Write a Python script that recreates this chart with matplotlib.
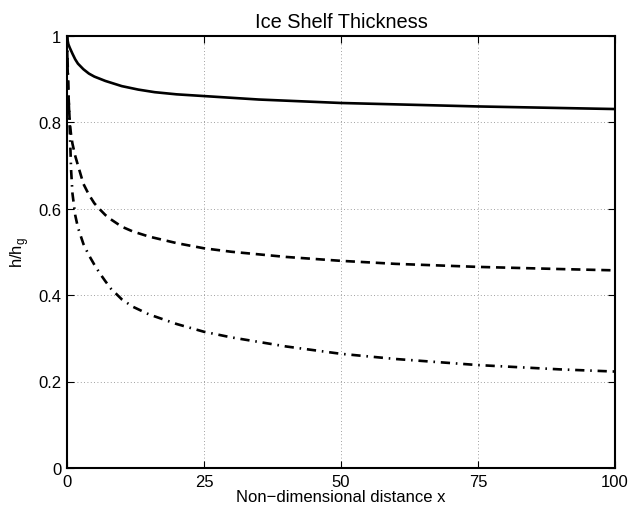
import matplotlib
matplotlib.use('Agg')
import matplotlib.pyplot as plt
from matplotlib.ticker import FixedLocator, FuncFormatter

# Valores (h/h_g frente a x)
x_solid = [0, 0.1, 0.25, 0.5, 1, 1.5, 2, 3, 4, 5, 6, 7, 8, 10, 13, 16, 20, 25,
           30, 35, 50, 75, 100]
h_solid = [1.0, 0.99, 0.98, 0.972, 0.958, 0.945, 0.935, 0.922, 0.912, 0.905,
           0.900, 0.895, 0.891, 0.883, 0.875, 0.869, 0.864, 0.860, 0.856,
           0.852, 0.844, 0.836, 0.830]

x_dash = [0, 0.05, 0.1, 0.25, 0.5, 0.75, 1, 1.5, 2, 3, 4, 5, 6, 7, 8, 10, 12,
          15, 20, 25, 30, 40, 50, 60, 75, 90, 100]
h_dash = [1.0, 0.96, 0.93, 0.87, 0.80, 0.77, 0.75, 0.722, 0.70, 0.657, 0.632,
          0.612, 0.598, 0.585, 0.575, 0.558, 0.547, 0.535, 0.520, 0.508, 0.500,
          0.488, 0.479, 0.472, 0.465, 0.460, 0.457]

x_dashdot = [0, 0.05, 0.1, 0.25, 0.5, 0.75, 1, 1.5, 2, 3, 4, 5, 6, 7, 8, 10,
             12, 15, 20, 25, 30, 40, 50, 60, 75, 90, 100]
h_dashdot = [1.0, 0.97, 0.95, 0.87, 0.79, 0.69, 0.635, 0.585, 0.556, 0.518,
             0.492, 0.470, 0.450, 0.432, 0.415, 0.390, 0.373, 0.355, 0.333,
             0.315, 0.302, 0.281, 0.264, 0.252, 0.238, 0.228, 0.223]

x_ticks = [0, 25, 50, 75, 100]
y_ticks = [0, 0.2, 0.4, 0.6, 0.8, 1]

plt.rcParams['font.family'] = ['Liberation Sans', 'DejaVu Sans']
plt.rcParams['font.size'] = 12

fig = plt.figure(figsize=(6.3, 5.1), dpi=100)
ax = fig.add_axes([0.1063, 0.0804, 0.8698, 0.848])

ax.plot(x_solid, h_solid, color='black', lw=1.9, ls='-')
ax.plot(x_dash, h_dash, color='black', lw=1.9, ls=(0, (3.5, 2.2)))
ax.plot(x_dashdot, h_dashdot, color='black', lw=1.9, ls=(0, (3.5, 2.2, 0.6, 2.2)))

ax.set_xlim(0, 100)
ax.set_ylim(0, 1)
ax.xaxis.set_major_locator(FixedLocator(x_ticks))
ax.yaxis.set_major_locator(FixedLocator(y_ticks))
ax.yaxis.set_major_formatter(FuncFormatter(lambda v, p: f'{v:g}'))

ax.grid(True, ls=(0, (1, 3)), color='#808080', lw=0.6)
ax.tick_params(direction='in', top=True, right=True, length=5, width=0.8, pad=4)
for s in ax.spines.values():
    s.set_linewidth(1.5)

ax.set_title('Ice Shelf Thickness', pad=6)
ax.set_xlabel('Non\u2212dimensional distance x', labelpad=0)
ax.set_ylabel('h/h$_\\mathregular{g}$', labelpad=5)

fig.savefig('out.png', dpi=100)
